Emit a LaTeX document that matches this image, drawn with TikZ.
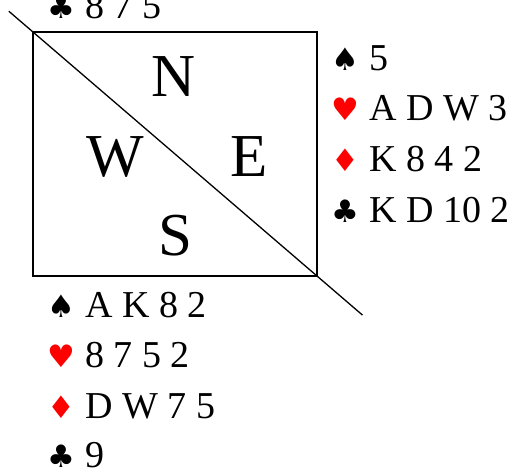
\documentclass[tikz,border=0pt]{standalone}
\usepackage{fontspec}
\setmainfont{Liberation Serif}
\newfontfamily\suitfont{DejaVu Sans}
\usetikzlibrary{calc}
\tikzset{
  hand/.style={anchor=base west, inner sep=0pt, font=\fontsize{38}{40}\selectfont},
  suit/.style={anchor=base, inner sep=0pt, font=\suitfont\fontsize{31}{34}\selectfont},
  redsuit/.style={suit, text=red},
  seat/.style={anchor=base, inner sep=0pt, font=\fontsize{61}{64}\selectfont},
  frame/.style={draw, line width=1.6pt},
  diag/.style={draw, line width=1.3pt}
}
\begin{document}
\begin{tikzpicture}[x=1pt,y=1pt]
\useasboundingbox (0,0) rectangle (512,-472);
% table
\coordinate (tl) at (33,-32);
\coordinate (br) at (317,-276);
\draw[frame] (tl) rectangle (br);
\coordinate (d1) at ($(tl)!-0.085!(br)$);
\coordinate (d2) at ($(tl)!1.16!(br)$);
\draw[diag] (d1) -- (d2);
% seats
\node[seat] (N) at (174,-96.5) {N};
\node[seat] (W) at (115,-176.5) {W};
\node[seat] (E) at (249,-176.5) {E};
\node[seat] (S) at (175,-255.5) {S};
% north
\node[suit] (nc) at (61,-18) {♣};
\node[hand] (nct) at (85,-18) {8 7 5};
% east
\node[suit] (es) at (345,-70) {♠};
\node[hand] (est) at (369,-70) {5};
\node[redsuit] (eh) at (345,-120.5) {♥};
\node[hand] (eht) at (369,-120.5) {A D W 3};
\node[redsuit] (ed) at (345,-171.5) {♦};
\node[hand] (edt) at (369,-171.5) {K 8 4 2};
\node[suit] (ec) at (345,-222) {♣};
\node[hand] (ect) at (369,-222) {K D 10 2};
% south
\node[suit] (ss) at (61,-317) {♠};
\node[hand] (sst) at (85,-317) {A K 8 2};
\node[redsuit] (sh) at (61,-367) {♥};
\node[hand] (sht) at (85,-367) {8 7 5 2};
\node[redsuit] (sd) at (61,-418) {♦};
\node[hand] (sdt) at (85,-418) {D W 7 5};
\node[suit] (sc) at (61,-467) {♣};
\node[hand] (sct) at (85,-467) {9};
\end{tikzpicture}
\end{document}
